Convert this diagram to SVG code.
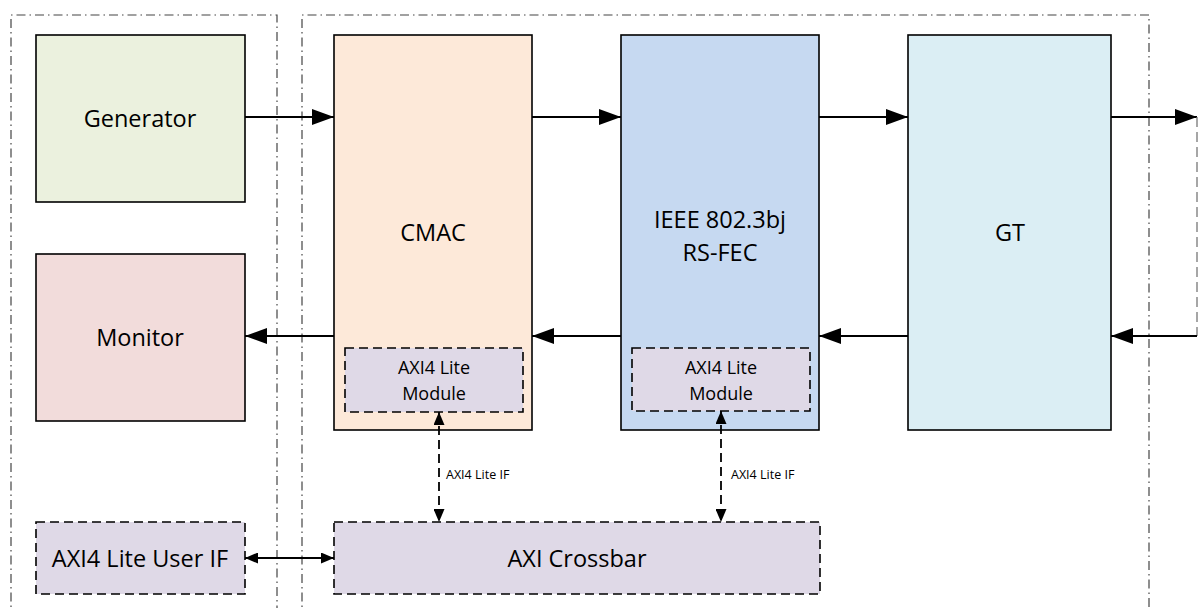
<svg xmlns="http://www.w3.org/2000/svg" width="1198" height="608" viewBox="0 0 1198 608">
<defs>
<style>
.frame{fill:none;stroke:#444;stroke-width:1.2;stroke-dasharray:9 4 1.5 4}
.box{stroke:#000;stroke-width:1.6}
.dbox{fill:#dfd9e7;stroke:#000;stroke-width:1.6;stroke-dasharray:9 5}
.t{font-family:"Open Sans","Liberation Sans",sans-serif;fill:#000;text-anchor:middle;dominant-baseline:central}
.big{font-size:23.5px}
.mid{font-size:18px}
.sm{font-size:12.5px;text-anchor:start}
.conn{fill:none;stroke:#000;stroke-width:2}
.dconn{fill:none;stroke:#000;stroke-width:1.8;stroke-dasharray:9 5}
.loop{fill:none;stroke:#777;stroke-width:1.3;stroke-dasharray:10 5}
</style>
<marker id="ah" markerWidth="22" markerHeight="16" refX="22" refY="8" orient="auto" markerUnits="userSpaceOnUse"><path d="M0,0 L22,8 L0,16 Z" fill="#000"/></marker>
<marker id="sh" markerWidth="13" markerHeight="11" refX="13" refY="5.5" orient="auto-start-reverse" markerUnits="userSpaceOnUse"><path d="M0,0 L13,5.5 L0,11 Z" fill="#000"/></marker>
</defs>
<path class="frame" d="M11,620 L11,15 L277,15 L277,620"/>
<path class="frame" d="M302,620 L302,15 L1149,15 L1149,620"/>
<g id="generator"><rect class="box" x="36" y="35" width="209" height="167" fill="#ebf1de"/><text class="t big" x="140" y="118">Generator</text></g>
<g id="monitor"><rect class="box" x="36" y="254" width="209" height="167" fill="#f2dcdb"/><text class="t big" x="140" y="337">Monitor</text></g>
<g id="cmac"><rect class="box" x="334" y="35" width="198" height="395" fill="#fde9d9"/><text class="t big" x="433" y="232">CMAC</text></g>
<g id="cmac-axi"><rect class="dbox" x="345" y="348" width="178" height="64"/><text class="t mid" x="434" y="367">AXI4 Lite</text><text class="t mid" x="434" y="393">Module</text></g>
<g id="rsfec"><rect class="box" x="621" y="35" width="198" height="395" fill="#c6d9f1"/><text class="t big" x="720" y="219">IEEE 802.3bj</text><text class="t big" x="720" y="252">RS-FEC</text></g>
<g id="rsfec-axi"><rect class="dbox" x="632" y="348" width="178" height="63"/><text class="t mid" x="721" y="367">AXI4 Lite</text><text class="t mid" x="721" y="393">Module</text></g>
<g id="gt"><rect class="box" x="908" y="35" width="203" height="395" fill="#dbeef4"/><text class="t big" x="1010" y="232">GT</text></g>
<g id="user-if"><rect class="dbox" x="36" y="522" width="209" height="72"/><text class="t big" x="140" y="558">AXI4 Lite User IF</text></g>
<g id="crossbar"><rect class="dbox" x="334" y="522" width="486" height="72"/><text class="t big" x="577" y="558">AXI Crossbar</text></g>
<g id="connectors">
<line class="conn" x1="245" y1="117" x2="334" y2="117" marker-end="url(#ah)"/>
<line class="conn" x1="532" y1="117" x2="621" y2="117" marker-end="url(#ah)"/>
<line class="conn" x1="819" y1="117" x2="908" y2="117" marker-end="url(#ah)"/>
<line class="conn" x1="1111" y1="117" x2="1197" y2="117" marker-end="url(#ah)"/>
<line class="loop" x1="1197" y1="117" x2="1197" y2="336"/>
<line class="conn" x1="1197" y1="336" x2="1111" y2="336" marker-end="url(#ah)"/>
<line class="conn" x1="908" y1="336" x2="819" y2="336" marker-end="url(#ah)"/>
<line class="conn" x1="621" y1="336" x2="532" y2="336" marker-end="url(#ah)"/>
<line class="conn" x1="334" y1="336" x2="245" y2="336" marker-end="url(#ah)"/>
<line class="dconn" x1="439" y1="412" x2="439" y2="522" marker-start="url(#sh)" marker-end="url(#sh)"/>
<line class="dconn" x1="721" y1="411" x2="721" y2="522" marker-start="url(#sh)" marker-end="url(#sh)"/>
<line class="conn" style="stroke-width:1.8" x1="245" y1="558" x2="334" y2="558" marker-start="url(#sh)" marker-end="url(#sh)"/>
<text class="t sm" x="446" y="474">AXI4 Lite IF</text>
<text class="t sm" x="731" y="474">AXI4 Lite IF</text>
</g>
</svg>
